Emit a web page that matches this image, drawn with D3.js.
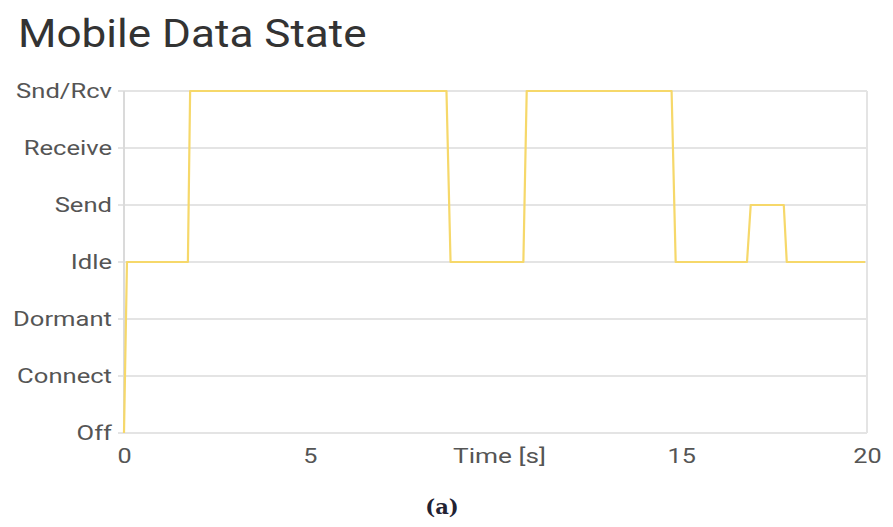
<!DOCTYPE html>
<html>
<head>
<meta charset="utf-8">
<script src="https://cdn.jsdelivr.net/npm/d3@7"></script>
<style>
  body { margin: 0; background: #fff; }
  svg { display: block; font-family: Roboto, sans-serif; }
</style>
</head>
<body>
<div id="chart"></div>
<script>
// States from bottom to top
const states = ['Off', 'Connect', 'Dormant', 'Idle', 'Send', 'Receive', 'Snd/Rcv'];

// Step trace: time in seconds and state reached
const times = [0, 0.08, 1.72, 1.78, 8.68, 8.79, 10.75, 10.84, 14.74, 14.85, 16.77, 16.87, 17.76, 17.84, 19.95];
const stateSeq = ['Off', 'Idle', 'Idle', 'Snd/Rcv', 'Snd/Rcv', 'Idle', 'Idle', 'Snd/Rcv', 'Snd/Rcv', 'Idle', 'Idle', 'Send', 'Send', 'Idle', 'Idle'];

const xTicks = [0, 5, 10, 15, 20];

const W = 893, H = 527;
const margin = { left: 124, right: 26, top: 91, bottom: 94 };
const width = W - margin.left - margin.right;
const height = H - margin.top - margin.bottom;

// stretch text horizontally around its anchor x
const stretch = (ax, s) => 'translate(' + ax + ',0) scale(' + s + ',1) translate(' + (-ax) + ',0)';

const svg = d3.select('#chart')
  .append('svg')
    .attr('width', W)
    .attr('height', H);

// Title
svg.append('text')
  .attr('x', 18)
  .attr('y', 47)
  .attr('font-size', '39px')
  .attr('fill', '#333')
  .attr('transform', stretch(18, 1.13))
  .text('Mobile Data State');

const g = svg.append('g')
  .attr('transform', 'translate(' + margin.left + ',' + margin.top + ')');

const x = d3.scaleLinear().domain([0, 20]).range([0, width]);
const y = d3.scalePoint().domain(states).range([height, 0]);

// Horizontal grid
g.append('g')
  .selectAll('line')
  .data(states)
  .join('line')
    .attr('x1', -6)
    .attr('x2', width)
    .attr('y1', d => y(d))
    .attr('y2', d => y(d))
    .attr('stroke', '#e4e4e4')
    .attr('stroke-width', 2);

// Frame sides
g.append('line')
  .attr('x1', 0).attr('x2', 0)
  .attr('y1', 0).attr('y2', height)
  .attr('stroke', '#dadada').attr('stroke-width', 2);
g.append('line')
  .attr('x1', width).attr('x2', width)
  .attr('y1', 0).attr('y2', height)
  .attr('stroke', '#e4e4e4').attr('stroke-width', 2);

// Y axis labels
const yAxis = d3.axisLeft(y).tickSize(0).tickPadding(12);
g.append('g')
  .call(yAxis)
  .call(s => s.select('.domain').remove())
  .selectAll('text')
    .attr('font-family', 'Roboto, sans-serif')
    .attr('font-size', '20px')
    .attr('fill', '#555')
    .attr('transform', stretch(-12, 1.28));

// X axis labels (10 replaced by axis title)
const xAxis = d3.axisBottom(x).tickValues(xTicks)
  .tickSize(0).tickPadding(15)
  .tickFormat(d => d === 10 ? '' : d);
g.append('g')
  .attr('transform', 'translate(0,' + height + ')')
  .call(xAxis)
  .call(s => s.select('.domain').remove())
  .selectAll('text')
    .attr('font-family', 'Roboto, sans-serif')
    .attr('font-size', '21px')
    .attr('fill', '#555')
    .attr('transform', stretch(0, 1.2));

g.append('text')
  .attr('x', x(10) + 4)
  .attr('y', height + 30)
  .attr('text-anchor', 'middle')
  .attr('font-size', '21px')
  .attr('fill', '#555')
  .attr('transform', stretch(x(10) + 4, 1.25))
  .text('Time [s]');

// Trace
const pts = times.map((t, i) => [t, stateSeq[i]]);
const line = d3.line()
  .x(d => x(d[0]))
  .y(d => y(d[1]));

g.append('path')
  .datum(pts)
  .attr('d', line)
  .attr('fill', 'none')
  .attr('stroke', '#f6d86a')
  .attr('stroke-width', 2.2)
  .attr('stroke-linejoin', 'round');

// Caption
svg.append('text')
  .attr('x', 442)
  .attr('y', 514)
  .attr('text-anchor', 'middle')
  .attr('font-family', '"DejaVu Serif", "Liberation Serif", serif')
  .attr('font-weight', 'bold')
  .attr('font-size', '21px')
  .attr('fill', '#223')
  .text('(a)');
</script>
</body>
</html>
